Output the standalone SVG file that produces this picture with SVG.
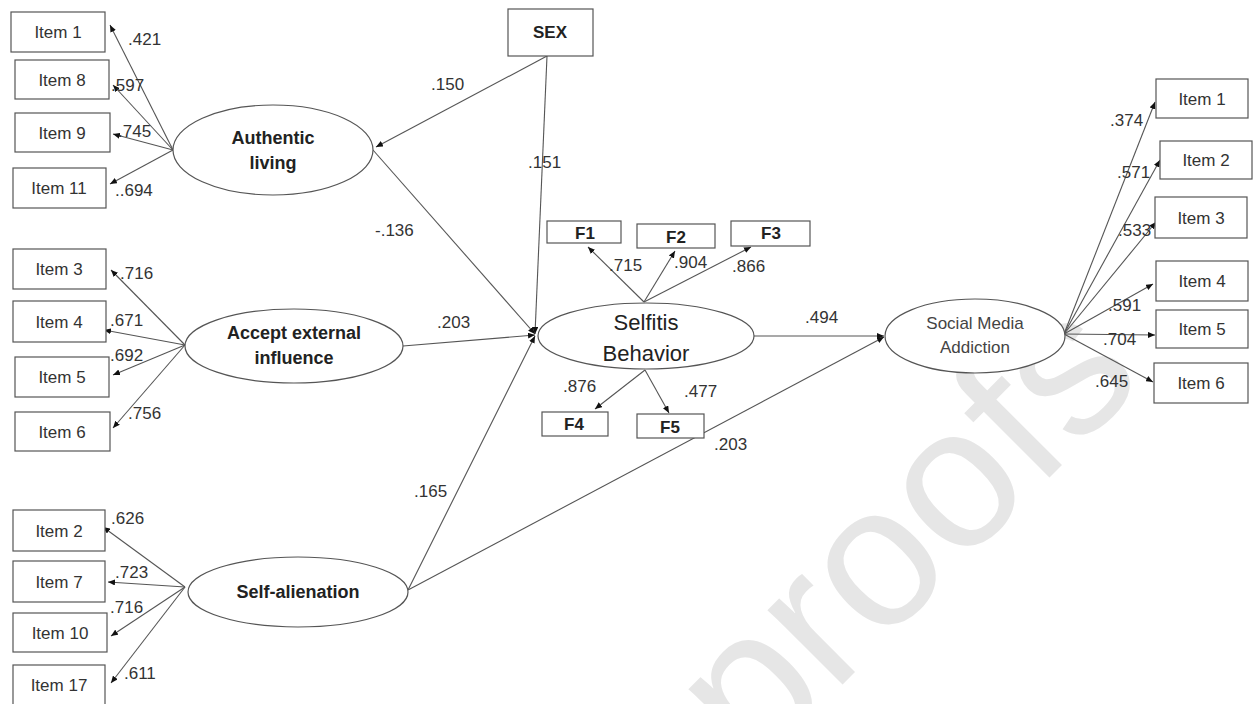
<svg xmlns="http://www.w3.org/2000/svg" width="1259" height="704" viewBox="0 0 1259 704">
<defs>
<marker id="ah" markerUnits="userSpaceOnUse" markerWidth="8" markerHeight="6" refX="7" refY="3" orient="auto">
<path d="M0,0 L7,3 L0,6 z" fill="#111"/>
</marker>
<style>
.bx{fill:#fff;stroke:#555;stroke-width:1.2}
.el{fill:#fff;stroke:#555;stroke-width:1.2}
.it{font-family:"Liberation Sans",Arial,sans-serif;font-size:17px;fill:#333;text-anchor:middle}
.fb{font-family:"Liberation Sans",Arial,sans-serif;font-size:17px;font-weight:bold;fill:#222;text-anchor:middle}
.lb{font-family:"Liberation Sans",Arial,sans-serif;font-size:18px;font-weight:bold;fill:#222;text-anchor:middle}
.lbl{font-family:"Liberation Sans",Arial,sans-serif;font-size:17px;fill:#333}
.cn line{stroke:#555;stroke-width:1.1;marker-end:url(#ah)}
.wm{font-family:"Liberation Sans",Arial,sans-serif;font-size:200px;fill:#e6e6e6}
</style>
</defs>
<rect width="1259" height="704" fill="#fff"/>
<text class="wm" transform="translate(754,773) rotate(-45)">proofs</text>

<g class="cn" id="connectors">
<line x1="173" y1="150" x2="110" y2="25"/>
<line x1="173" y1="150" x2="113" y2="85"/>
<line x1="173" y1="150" x2="113" y2="134"/>
<line x1="173" y1="150" x2="110" y2="184"/>
<line x1="185" y1="345" x2="111" y2="270"/>
<line x1="185" y1="345" x2="104" y2="330"/>
<line x1="185" y1="345" x2="113" y2="375"/>
<line x1="185" y1="345" x2="113" y2="428"/>
<line x1="185" y1="587" x2="103" y2="527"/>
<line x1="185" y1="587" x2="108" y2="582"/>
<line x1="185" y1="587" x2="111" y2="636"/>
<line x1="185" y1="587" x2="111" y2="683"/>
<line x1="547" y1="56" x2="376" y2="147"/>
<line x1="547" y1="56" x2="535" y2="334"/>
<line x1="373" y1="150" x2="535" y2="334"/>
<line x1="403" y1="346" x2="535" y2="335"/>
<line x1="408" y1="590" x2="535" y2="336"/>
<line x1="408" y1="590" x2="884" y2="337"/>
<line x1="754" y1="336" x2="884" y2="336"/>
<line x1="644" y1="302" x2="588" y2="247"/>
<line x1="644" y1="302" x2="675" y2="251"/>
<line x1="644" y1="302" x2="751" y2="247"/>
<line x1="645" y1="370" x2="595" y2="409"/>
<line x1="645" y1="370" x2="669" y2="413"/>
<line x1="1064" y1="334" x2="1155" y2="102"/>
<line x1="1064" y1="334" x2="1160" y2="160"/>
<line x1="1064" y1="334" x2="1156" y2="222"/>
<line x1="1064" y1="334" x2="1153" y2="284"/>
<line x1="1064" y1="334" x2="1155" y2="335"/>
<line x1="1064" y1="334" x2="1153" y2="382"/>
</g>

<g id="path-labels">
<text class="lbl" x="128" y="45">.421</text>
<text class="lbl" x="111" y="91">.597</text>
<text class="lbl" x="118" y="137">.745</text>
<text class="lbl" x="115" y="196">..694</text>
<text class="lbl" x="120" y="279">.716</text>
<text class="lbl" x="110" y="326">.671</text>
<text class="lbl" x="110" y="361">.692</text>
<text class="lbl" x="128" y="419">.756</text>
<text class="lbl" x="111" y="524">.626</text>
<text class="lbl" x="115" y="578">.723</text>
<text class="lbl" x="110" y="613">.716</text>
<text class="lbl" x="124" y="679">.611</text>
<text class="lbl" x="431" y="90">.150</text>
<text class="lbl" x="528" y="168">.151</text>
<text class="lbl" x="375" y="236">-.136</text>
<text class="lbl" x="437" y="328">.203</text>
<text class="lbl" x="414" y="497">.165</text>
<text class="lbl" x="609" y="271">.715</text>
<text class="lbl" x="674" y="268">.904</text>
<text class="lbl" x="732" y="272">.866</text>
<text class="lbl" x="563" y="392">.876</text>
<text class="lbl" x="684" y="397">.477</text>
<text class="lbl" x="805" y="323">.494</text>
<text class="lbl" x="714" y="450">.203</text>
<text class="lbl" x="1110" y="126">.374</text>
<text class="lbl" x="1117" y="178">.571</text>
<text class="lbl" x="1118" y="236">.533</text>
<text class="lbl" x="1108" y="311">.591</text>
<text class="lbl" x="1103" y="345">.704</text>
<text class="lbl" x="1095" y="387">.645</text>
</g>

<g id="authentic-living"><ellipse class="el" cx="273" cy="150" rx="100" ry="45"/><text class="lb" x="273" y="144">Authentic</text><text class="lb" x="273" y="169">living</text></g>
<g id="accept-external"><ellipse class="el" cx="294" cy="346" rx="109" ry="37"/><text class="lb" x="294" y="339">Accept external</text><text class="lb" x="294" y="364">influence</text></g>
<g id="self-alienation"><ellipse class="el" cx="298" cy="592" rx="110" ry="35"/><text class="lb" x="298" y="598">Self-alienation</text></g>
<g id="selfitis"><ellipse class="el" cx="646" cy="336" rx="108" ry="33"/><text x="646" y="330" font-family="Liberation Sans, Arial, sans-serif" font-size="22" fill="#222" text-anchor="middle">Selfitis</text><text x="646" y="361" font-family="Liberation Sans, Arial, sans-serif" font-size="22" fill="#222" text-anchor="middle">Behavior</text></g>
<g id="sma"><ellipse class="el" cx="975" cy="336" rx="90" ry="37"/><text x="975" y="329" font-family="Liberation Sans, Arial, sans-serif" font-size="17" fill="#444" text-anchor="middle">Social Media</text><text x="975" y="353" font-family="Liberation Sans, Arial, sans-serif" font-size="17" fill="#444" text-anchor="middle">Addiction</text></g>

<g id="sex"><rect class="bx" x="508" y="9" width="85" height="47"/><text class="fb" x="550" y="38">SEX</text></g>
<g id="f1"><rect class="bx" x="547" y="221" width="74" height="22"/><text class="fb" x="585" y="239">F1</text></g>
<g id="f2"><rect class="bx" x="637" y="224" width="78" height="24"/><text class="fb" x="676" y="243">F2</text></g>
<g id="f3"><rect class="bx" x="731" y="221" width="79" height="25"/><text class="fb" x="771" y="239">F3</text></g>
<g id="f4"><rect class="bx" x="542" y="412" width="66" height="24"/><text class="fb" x="574" y="430">F4</text></g>
<g id="f5"><rect class="bx" x="637" y="414" width="67" height="24"/><text class="fb" x="670" y="433">F5</text></g>

<g id="al-item1"><rect class="bx" x="11" y="12" width="94" height="40"/><text class="it" x="58" y="38">Item 1</text></g>
<g id="al-item8"><rect class="bx" x="15" y="60" width="94" height="39"/><text class="it" x="62" y="86">Item 8</text></g>
<g id="al-item9"><rect class="bx" x="15" y="113" width="95" height="39"/><text class="it" x="62" y="139">Item 9</text></g>
<g id="al-item11"><rect class="bx" x="13" y="168" width="93" height="40"/><text class="it" x="59" y="194">Item 11</text></g>
<g id="ae-item3"><rect class="bx" x="13" y="249" width="93" height="40"/><text class="it" x="59" y="275">Item 3</text></g>
<g id="ae-item4"><rect class="bx" x="13" y="301" width="93" height="41"/><text class="it" x="59" y="328">Item 4</text></g>
<g id="ae-item5"><rect class="bx" x="15" y="357" width="94" height="40"/><text class="it" x="62" y="383">Item 5</text></g>
<g id="ae-item6"><rect class="bx" x="15" y="412" width="95" height="39"/><text class="it" x="62" y="438">Item 6</text></g>
<g id="sa-item2"><rect class="bx" x="13" y="510" width="92" height="41"/><text class="it" x="59" y="537">Item 2</text></g>
<g id="sa-item7"><rect class="bx" x="13" y="561" width="92" height="41"/><text class="it" x="59" y="588">Item 7</text></g>
<g id="sa-item10"><rect class="bx" x="13" y="613" width="94" height="39"/><text class="it" x="60" y="639">Item 10</text></g>
<g id="sa-item17"><rect class="bx" x="13" y="665" width="92" height="40"/><text class="it" x="59" y="691">Item 17</text></g>

<g id="sma-item1"><rect class="bx" x="1156" y="79" width="92" height="39"/><text class="it" x="1202" y="105">Item 1</text></g>
<g id="sma-item2"><rect class="bx" x="1160" y="141" width="92" height="38"/><text class="it" x="1206" y="166">Item 2</text></g>
<g id="sma-item3"><rect class="bx" x="1155" y="197" width="92" height="41"/><text class="it" x="1201" y="224">Item 3</text></g>
<g id="sma-item4"><rect class="bx" x="1156" y="261" width="92" height="40"/><text class="it" x="1202" y="287">Item 4</text></g>
<g id="sma-item5"><rect class="bx" x="1156" y="310" width="92" height="38"/><text class="it" x="1202" y="335">Item 5</text></g>
<g id="sma-item6"><rect class="bx" x="1154" y="363" width="94" height="40"/><text class="it" x="1201" y="389">Item 6</text></g>
</svg>
